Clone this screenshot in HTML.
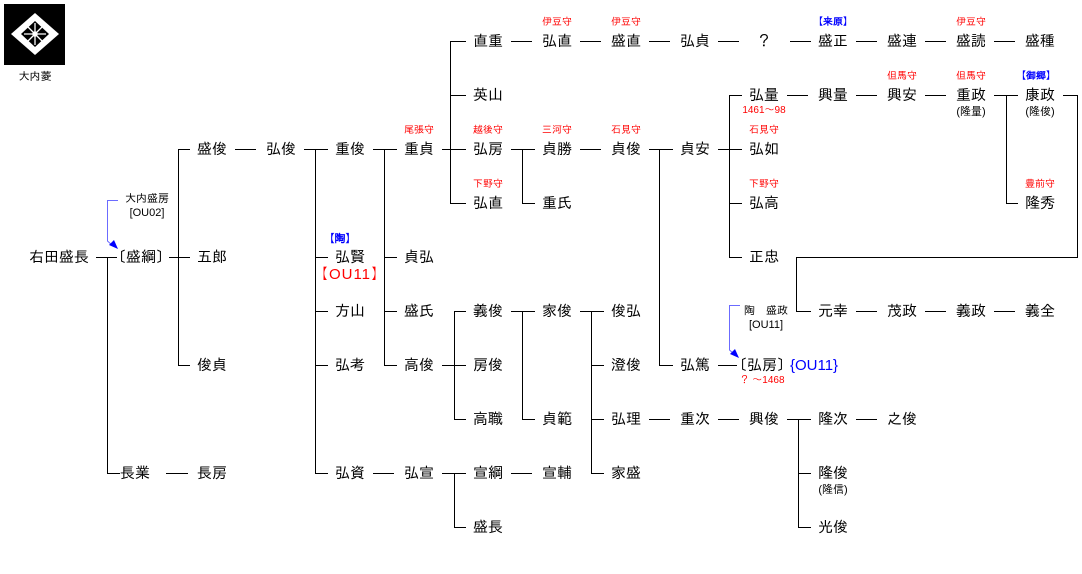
<!DOCTYPE html>
<html><head><meta charset="utf-8"><style>
html,body{margin:0;padding:0;background:#fff;}
svg{display:block;}
text{font-family:"Liberation Sans","IPAGothic","Noto Sans CJK JP",sans-serif;}
.n{font-size:15px;fill:#000;text-anchor:middle;}
.r{font-size:10px;fill:#f00;text-anchor:middle;}
.b{font-size:10px;fill:#00f;text-anchor:middle;}
.s{font-size:11px;fill:#000;text-anchor:middle;}
</style></head><body>
<svg width="1082" height="574" viewBox="0 0 1082 574" xmlns="http://www.w3.org/2000/svg">
<rect x="4" y="4" width="61" height="61" fill="#000"/>
<polygon points="35,13 59,34 35,55 11,34" fill="#fff"/>
<polygon points="35,21 49,34 35,47 21,34" fill="#000"/>
<g stroke="#fff" stroke-width="1.3" fill="none">
<line x1="24" y1="34" x2="46" y2="34"/><line x1="35" y1="23" x2="35" y2="45"/>
<line x1="28" y1="27" x2="42" y2="41"/><line x1="42" y1="27" x2="28" y2="41"/>
<circle cx="35" cy="34" r="2"/>
</g>
<text x="35" y="80" class="s">大内菱</text>

<g stroke="#000" stroke-width="1" fill="none" shape-rendering="crispEdges">
<line x1="96" y1="257.5" x2="117" y2="257.5"/>
<line x1="107.5" y1="257" x2="107.5" y2="473"/>
<line x1="107" y1="473.5" x2="120" y2="473.5"/>
<line x1="169" y1="257.5" x2="190" y2="257.5"/>
<line x1="178.5" y1="149" x2="178.5" y2="365"/>
<line x1="178" y1="149.5" x2="190" y2="149.5"/>
<line x1="178" y1="365.5" x2="190" y2="365.5"/>
<line x1="166" y1="473.5" x2="188" y2="473.5"/>
<line x1="235" y1="149.5" x2="256" y2="149.5"/>
<line x1="304" y1="149.5" x2="328" y2="149.5"/>
<line x1="315.5" y1="149" x2="315.5" y2="473"/>
<line x1="315" y1="257.5" x2="328" y2="257.5"/>
<line x1="315" y1="311.5" x2="328" y2="311.5"/>
<line x1="315" y1="365.5" x2="328" y2="365.5"/>
<line x1="315" y1="473.5" x2="328" y2="473.5"/>
<line x1="373" y1="149.5" x2="397" y2="149.5"/>
<line x1="384.5" y1="149" x2="384.5" y2="365"/>
<line x1="384" y1="257.5" x2="397" y2="257.5"/>
<line x1="384" y1="311.5" x2="397" y2="311.5"/>
<line x1="384" y1="365.5" x2="397" y2="365.5"/>
<line x1="442" y1="149.5" x2="466" y2="149.5"/>
<line x1="450.5" y1="41" x2="450.5" y2="203"/>
<line x1="450" y1="41.5" x2="466" y2="41.5"/>
<line x1="450" y1="95.5" x2="466" y2="95.5"/>
<line x1="450" y1="203.5" x2="466" y2="203.5"/>
<line x1="511" y1="41.5" x2="532" y2="41.5"/>
<line x1="580" y1="41.5" x2="601" y2="41.5"/>
<line x1="649" y1="41.5" x2="670" y2="41.5"/>
<line x1="718" y1="41.5" x2="739" y2="41.5"/>
<line x1="790" y1="41.5" x2="811" y2="41.5"/>
<line x1="856" y1="41.5" x2="877" y2="41.5"/>
<line x1="925" y1="41.5" x2="946" y2="41.5"/>
<line x1="994" y1="41.5" x2="1015" y2="41.5"/>
<line x1="511" y1="149.5" x2="535" y2="149.5"/>
<line x1="522.5" y1="149" x2="522.5" y2="203"/>
<line x1="522" y1="203.5" x2="535" y2="203.5"/>
<line x1="580" y1="149.5" x2="601" y2="149.5"/>
<line x1="649" y1="149.5" x2="673" y2="149.5"/>
<line x1="659.5" y1="149" x2="659.5" y2="365"/>
<line x1="659" y1="365.5" x2="673" y2="365.5"/>
<line x1="718" y1="149.5" x2="742" y2="149.5"/>
<line x1="729.5" y1="95" x2="729.5" y2="257"/>
<line x1="729" y1="95.5" x2="742" y2="95.5"/>
<line x1="729" y1="203.5" x2="742" y2="203.5"/>
<line x1="729" y1="257.5" x2="742" y2="257.5"/>
<line x1="787" y1="95.5" x2="808" y2="95.5"/>
<line x1="856" y1="95.5" x2="877" y2="95.5"/>
<line x1="925" y1="95.5" x2="946" y2="95.5"/>
<line x1="994" y1="95.5" x2="1018" y2="95.5"/>
<line x1="1006.5" y1="95" x2="1006.5" y2="203"/>
<line x1="1006" y1="203.5" x2="1018" y2="203.5"/>
<line x1="1063" y1="95.5" x2="1078" y2="95.5"/>
<line x1="1077.5" y1="95" x2="1077.5" y2="257"/>
<line x1="796" y1="257.5" x2="1078" y2="257.5"/>
<line x1="796.5" y1="257" x2="796.5" y2="311"/>
<line x1="796" y1="311.5" x2="811" y2="311.5"/>
<line x1="856" y1="311.5" x2="877" y2="311.5"/>
<line x1="925" y1="311.5" x2="946" y2="311.5"/>
<line x1="994" y1="311.5" x2="1015" y2="311.5"/>
<line x1="718" y1="365.5" x2="737" y2="365.5"/>
<line x1="442" y1="365.5" x2="466" y2="365.5"/>
<line x1="454.5" y1="311" x2="454.5" y2="419"/>
<line x1="454" y1="311.5" x2="466" y2="311.5"/>
<line x1="454" y1="419.5" x2="466" y2="419.5"/>
<line x1="511" y1="311.5" x2="535" y2="311.5"/>
<line x1="522.5" y1="311" x2="522.5" y2="419"/>
<line x1="522" y1="419.5" x2="535" y2="419.5"/>
<line x1="580" y1="311.5" x2="604" y2="311.5"/>
<line x1="591.5" y1="311" x2="591.5" y2="473"/>
<line x1="591" y1="365.5" x2="604" y2="365.5"/>
<line x1="591" y1="419.5" x2="604" y2="419.5"/>
<line x1="591" y1="473.5" x2="604" y2="473.5"/>
<line x1="649" y1="419.5" x2="670" y2="419.5"/>
<line x1="718" y1="419.5" x2="739" y2="419.5"/>
<line x1="787" y1="419.5" x2="811" y2="419.5"/>
<line x1="798.5" y1="419" x2="798.5" y2="527"/>
<line x1="798" y1="473.5" x2="811" y2="473.5"/>
<line x1="798" y1="527.5" x2="811" y2="527.5"/>
<line x1="856" y1="419.5" x2="877" y2="419.5"/>
<line x1="373" y1="473.5" x2="394" y2="473.5"/>
<line x1="442" y1="473.5" x2="466" y2="473.5"/>
<line x1="454.5" y1="473" x2="454.5" y2="527"/>
<line x1="454" y1="527.5" x2="466" y2="527.5"/>
<line x1="511" y1="473.5" x2="532" y2="473.5"/>
</g>

<g stroke="#6b6bff" stroke-width="1" fill="none">
<polyline points="118,200.5 107.5,200.5 107.5,241 113,246"/>
<polyline points="740,305.5 729.5,305.5 729.5,350 734,354"/>
</g>
<polygon points="118,249 109,245 114,240" fill="#00f"/>
<polygon points="739,358 730,354 735,349" fill="#00f"/>

<g class="n">
<text x="59" y="262">右田盛長</text>
<text x="141" y="262">〔盛綱〕</text>
<text x="135" y="478">長業</text>
<text x="212" y="154">盛俊</text>
<text x="212" y="262">五郎</text>
<text x="212" y="370">俊貞</text>
<text x="212" y="478">長房</text>
<text x="281" y="154">弘俊</text>
<text x="350" y="154">重俊</text>
<text x="350" y="262">弘賢</text>
<text x="350" y="316">方山</text>
<text x="350" y="370">弘考</text>
<text x="350" y="478">弘資</text>
<text x="419" y="154">重貞</text>
<text x="419" y="262">貞弘</text>
<text x="419" y="316">盛氏</text>
<text x="419" y="370">高俊</text>
<text x="419" y="478">弘宣</text>
<text x="488" y="46">直重</text>
<text x="488" y="100">英山</text>
<text x="488" y="154">弘房</text>
<text x="488" y="208">弘直</text>
<text x="488" y="316">義俊</text>
<text x="488" y="370">房俊</text>
<text x="488" y="424">高職</text>
<text x="488" y="478">宣綱</text>
<text x="488" y="532">盛長</text>
<text x="557" y="46">弘直</text>
<text x="557" y="154">貞勝</text>
<text x="557" y="208">重氏</text>
<text x="557" y="316">家俊</text>
<text x="557" y="424">貞範</text>
<text x="557" y="478">宣輔</text>
<text x="626" y="46">盛直</text>
<text x="626" y="154">貞俊</text>
<text x="626" y="316">俊弘</text>
<text x="626" y="370">澄俊</text>
<text x="626" y="424">弘理</text>
<text x="626" y="478">家盛</text>
<text x="695" y="46">弘貞</text>
<text x="695" y="154">貞安</text>
<text x="695" y="370">弘篤</text>
<text x="695" y="424">重次</text>
<text x="764" y="46">？</text>
<text x="764" y="100">弘量</text>
<text x="764" y="154">弘如</text>
<text x="764" y="208">弘高</text>
<text x="764" y="262">正忠</text>
<text x="762" y="370">〔弘房〕</text>
<text x="764" y="424">興俊</text>
<text x="833" y="46">盛正</text>
<text x="833" y="100">興量</text>
<text x="833" y="316">元幸</text>
<text x="833" y="424">隆次</text>
<text x="833" y="478">隆俊</text>
<text x="833" y="532">光俊</text>
<text x="902" y="46">盛連</text>
<text x="902" y="100">興安</text>
<text x="902" y="316">茂政</text>
<text x="902" y="424">之俊</text>
<text x="971" y="46">盛読</text>
<text x="971" y="100">重政</text>
<text x="971" y="316">義政</text>
<text x="1040" y="46">盛種</text>
<text x="1040" y="100">康政</text>
<text x="1040" y="208">隆秀</text>
<text x="1040" y="316">義全</text>
</g>
<text x="814" y="370" style="font-size:15px;fill:#00f;text-anchor:middle">{OU11}</text>
<text x="350" y="279" style="font-size:15px;fill:#f00;text-anchor:middle;letter-spacing:1px">【OU11】</text>

<g class="s">
<text x="971" y="115">(隆量)</text>
<text x="1040" y="115">(隆俊)</text>
<text x="833" y="493">(隆信)</text>
<text x="147" y="202">大内盛房</text>
<text x="147" y="216">[OU02]</text>
<text x="766" y="314">陶　盛政</text>
<text x="766" y="328">[OU11]</text>
</g>

<g class="r">
<text x="557" y="25">伊豆守</text>
<text x="626" y="25">伊豆守</text>
<text x="971" y="25">伊豆守</text>
<text x="902" y="79">但馬守</text>
<text x="971" y="79">但馬守</text>
<text x="419" y="133">尾張守</text>
<text x="488" y="133">越後守</text>
<text x="557" y="133">三河守</text>
<text x="626" y="133">石見守</text>
<text x="764" y="133">石見守</text>
<text x="488" y="187">下野守</text>
<text x="764" y="187">下野守</text>
<text x="1040" y="187">豊前守</text>
<text x="764" y="113">1461～98</text>
<text x="762" y="383">？ ～1468</text>
</g>
<g class="b" style="font-weight:bold">
<text x="833" y="25">【来原】</text>
<text x="1036" y="79">【御郷】</text>
<text x="340" y="242" style="font-size:11px">【陶】</text>
</g>
</svg>
</body></html>
